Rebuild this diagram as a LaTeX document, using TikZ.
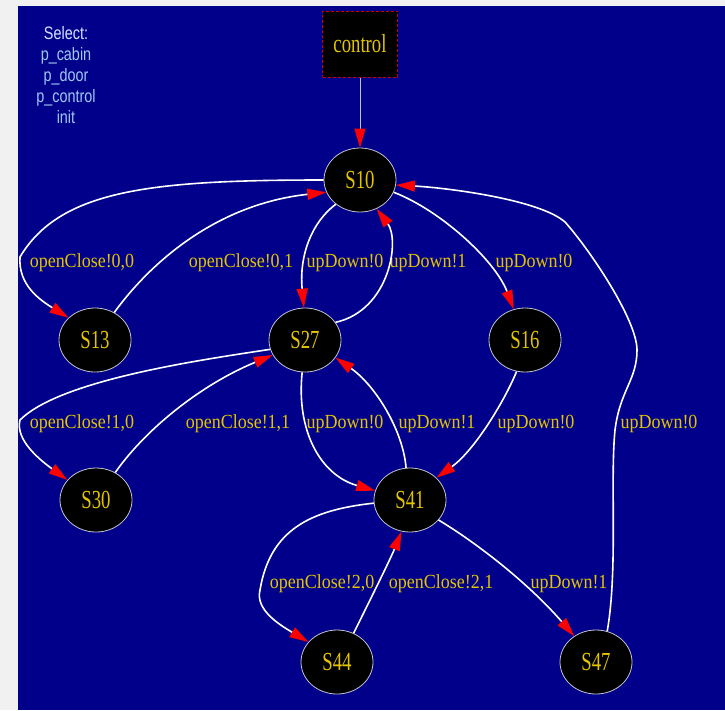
\documentclass[tikz,border=0pt]{standalone}
\usepackage{fontspec}
\setmainfont{Liberation Serif}
\newfontfamily\lblfont[FakeStretch=0.9]{Liberation Serif}
\newfontfamily\statefont[FakeStretch=0.72]{Liberation Serif}
\newfontfamily\selfont[FakeStretch=0.8]{Liberation Sans}
\usetikzlibrary{shapes.geometric,arrows.meta}
\definecolor{bgblue}{RGB}{0,0,139}
\definecolor{frame}{RGB}{241,241,241}
\definecolor{gold}{RGB}{228,196,0}
\definecolor{selhead}{RGB}{215,228,255}
\definecolor{selitem}{RGB}{160,200,240}
\definecolor{rim}{RGB}{195,195,205}
\definecolor{dashred}{RGB}{200,0,0}

\begin{document}
\begin{tikzpicture}[x=1pt, y=-1pt,
    state/.style={ellipse, draw=rim, line width=0.8pt, fill=black,
                  minimum width=72pt, minimum height=64pt, inner sep=0pt,
                  text=gold, font=\statefont\fontsize{26}{28}\selectfont},
    ctrlbox/.style={draw=dashred, dash pattern=on 3pt off 2pt, line width=1pt,
                    fill=black, minimum width=75pt, minimum height=66pt,
                    inner sep=0pt, text=gold,
                    font=\statefont\fontsize{26}{28}\selectfont},
    lbl/.style={inner sep=0pt, text=gold, font=\lblfont\fontsize{20}{24}\selectfont},
    sel/.style={inner sep=0pt, align=center, text=selitem,
                font=\selfont\fontsize{18}{21}\selectfont},
    arr/.style={white, line width=1.6pt,
                -{Triangle[length=19pt, width=11pt, color=red]}},
    ctrlarr/.style={rim, line width=1pt,
                -{Triangle[length=19pt, width=11pt, color=red]}}
  ]
  % frame and canvas
  \useasboundingbox (0,0) rectangle (725,710);
  \fill[frame] (0,0) rectangle (725,710);
  \fill[bgblue] (18,6) rectangle (725,710);

  % menu
  \node[sel] (menu) at (66,75) {{\color{selhead}Select:}\\p\_cabin\\p\_door\\p\_control\\init};

  % process box
  \node[ctrlbox] (ctrl) at (360,44) {control};

  % states
  \node[state] (s10) at (360,180) {S10};
  \node[state] (s13) at (95,340) {S13};
  \node[state] (s27) at (305,340) {S27};
  \node[state] (s16) at (525,340) {S16};
  \node[state] (s30) at (96,500) {S30};
  \node[state] (s41) at (410,500) {S41};
  \node[state] (s44) at (337,662) {S44};
  \node[state] (s47) at (596,662) {S47};

  % labels
  \node[lbl] (l1013) at (82,263) {openClose!0,0};
  \node[lbl] (l1310) at (241,263) {openClose!0,1};
  \node[lbl] (l1027) at (345,263) {upDown!0};
  \node[lbl] (l2710) at (428,263) {upDown!1};
  \node[lbl] (l1016) at (534,263) {upDown!0};
  \node[lbl] (l4710) at (659,424) {upDown!0};
  \node[lbl] (l2730) at (82,424) {openClose!1,0};
  \node[lbl] (l3027) at (238,424) {openClose!1,1};
  \node[lbl] (l2741) at (345,424) {upDown!0};
  \node[lbl] (l4127) at (437,424) {upDown!1};
  \node[lbl] (l1641) at (536,424) {upDown!0};
  \node[lbl] (l4144) at (322,584) {openClose!2,0};
  \node[lbl] (l4441) at (441,584) {openClose!2,1};
  \node[lbl] (l4147) at (569,584) {upDown!1};

  % transitions
  \draw[ctrlarr] (ctrl) -- (s10);
  \draw[arr] (s10.west) .. controls (150,180) and (60,190) .. (20,257)
             .. controls (18,285) and (40,300) .. (s13.140);
  \draw[arr] (s13.55) .. controls (145,270) and (210,205) .. (s10.200);
  \draw[arr] (s10.225) .. controls (312,222) and (299,255) .. (s27.92);
  \draw[arr] (s27.30) .. controls (390,310) and (400,240) .. (s10.300);
  \draw[arr] (s10.340) .. controls (440,210) and (495,260) .. (s16.110);
  \draw[arr] (s47.70) .. controls (618,570) and (610,480) .. (615,430)
             .. controls (620,390) and (637,380) .. (637,350)
             .. controls (637,320) and (590,250) .. (565,222)
             .. controls (540,200) and (450,188) .. (s10.352);
  \draw[arr] (s27.195) .. controls (200,360) and (60,380) .. (20,420)
             .. controls (15,440) and (40,460) .. (s30.145);
  \draw[arr] (s30.55) .. controls (145,430) and (200,385) .. (s27.205);
  \draw[arr] (s27.265) .. controls (296,430) and (320,475) .. (s41.165);
  \draw[arr] (s41.97) .. controls (403,430) and (375,385) .. (s27.330);
  \draw[arr] (s16.255) .. controls (505,400) and (475,450) .. (s41.40);
  \draw[arr] (s41.185) .. controls (310,510) and (270,530) .. (260,590)
             .. controls (255,610) and (280,625) .. (s44.145);
  \draw[arr] (s44.60) .. controls (370,600) and (390,560) .. (s41.255);
  \draw[arr] (s41.325) .. controls (480,545) and (530,585) .. (s47.130);
\end{tikzpicture}
\end{document}
